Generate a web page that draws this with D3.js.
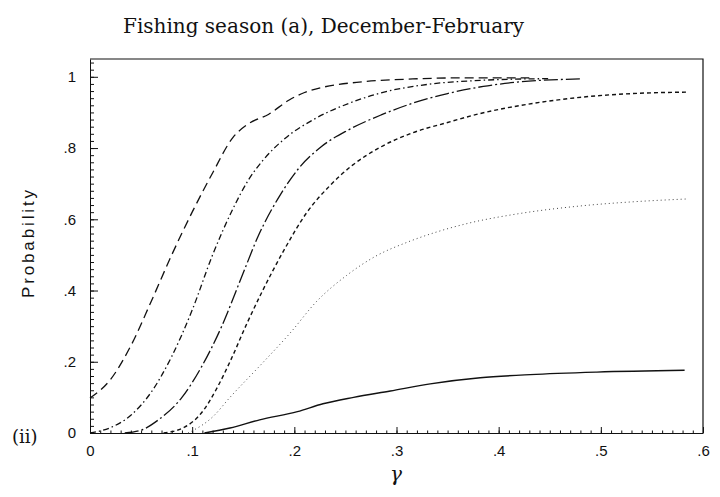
<!DOCTYPE html>
<html>
<head>
<meta charset="utf-8">
<script src="https://cdn.jsdelivr.net/npm/d3@7"></script>
<style>
  body { margin: 0; background: #fff; }
  .axis text { font-family: "Liberation Sans", Arial, sans-serif; font-size: 15px; fill: #111; }
  .axis path, .axis line { stroke: #111; }
  .line { fill: none; stroke: #111; stroke-width: 1.3; }
</style>
</head>
<body>
<div class="chart"></div>
<script>
// tick values
var xTicks = [0, 0.1, 0.2, 0.3, 0.4, 0.5, 0.6];
var yTicks = [0, 0.2, 0.4, 0.6, 0.8, 1];

// series values (gamma, probability)
var longDashX  = [0, 0.02, 0.04, 0.06, 0.08, 0.1, 0.12, 0.14, 0.155, 0.175, 0.195, 0.21, 0.23, 0.267, 0.316, 0.365, 0.43];
var longDashY  = [0.098, 0.15, 0.245, 0.37, 0.5, 0.62, 0.73, 0.83, 0.868, 0.895, 0.935, 0.956, 0.972, 0.986, 0.994, 0.997, 0.997];

var dashDotX   = [0, 0.02, 0.04, 0.06, 0.08, 0.1, 0.12, 0.14, 0.155, 0.17, 0.19, 0.22, 0.253, 0.285, 0.334, 0.382, 0.45];
var dashDotY   = [0, 0.015, 0.05, 0.115, 0.215, 0.345, 0.5, 0.63, 0.71, 0.768, 0.825, 0.882, 0.925, 0.955, 0.98, 0.99, 0.995];

var longDashDotX = [0.034, 0.05, 0.067, 0.09, 0.109, 0.129, 0.148, 0.165, 0.187, 0.204, 0.226, 0.253, 0.285, 0.317, 0.35, 0.385, 0.418, 0.48];
var longDashDotY = [0, 0.008, 0.037, 0.1, 0.185, 0.3, 0.435, 0.555, 0.672, 0.742, 0.803, 0.851, 0.893, 0.927, 0.953, 0.973, 0.985, 0.994];

var shortDashX = [0.072, 0.093, 0.109, 0.125, 0.137, 0.154, 0.169, 0.19, 0.212, 0.235, 0.257, 0.284, 0.316, 0.349, 0.382, 0.433, 0.482, 0.531, 0.585];
var shortDashY = [0, 0.017, 0.056, 0.13, 0.2, 0.31, 0.40, 0.514, 0.618, 0.695, 0.752, 0.802, 0.843, 0.871, 0.897, 0.925, 0.943, 0.953, 0.957];

var dottedX    = [0.096, 0.12, 0.137, 0.169, 0.196, 0.222, 0.251, 0.28, 0.31, 0.34, 0.372, 0.418, 0.482, 0.531, 0.584];
var dottedY    = [0, 0.045, 0.1, 0.197, 0.281, 0.37, 0.442, 0.497, 0.535, 0.565, 0.59, 0.615, 0.638, 0.649, 0.657];

var solidX     = [0.112, 0.137, 0.166, 0.203, 0.228, 0.258, 0.294, 0.333, 0.382, 0.431, 0.496, 0.582];
var solidY     = [0, 0.014, 0.037, 0.06, 0.082, 0.1, 0.118, 0.138, 0.155, 0.164, 0.171, 0.176];

// set the dimensions and margins of the graph
var margin = {top: 59, right: 17, bottom: 64, left: 90},
    width = 720 - margin.left - margin.right,
    height = 497 - margin.top - margin.bottom;

// set the ranges
var x = d3.scaleLinear().domain([0, 0.6]).range([0, width]);
var y = d3.scaleLinear().domain([0, 1.05]).range([height, 0]);

var fmt = function(d) { return d === 0 ? "0" : d === 1 ? "1" : d3.format(".1f")(d).replace(/^0/, ""); };

var svg = d3.select(".chart").append("svg")
    .attr("width", 720)
    .attr("height", 497);

var chart = svg.append("g")
    .attr("transform", "translate(" + margin.left + "," + margin.top + ")");

// minor ticks
chart.append("g")
    .attr("class", "axis")
    .attr("transform", "translate(0," + height + ")")
    .call(d3.axisBottom(x).tickValues(d3.range(0, 0.6001, 0.01)).tickSize(-2.5).tickFormat(""))
    .call(function(g) { g.select(".domain").remove(); });

chart.append("g")
    .attr("class", "axis")
    .call(d3.axisLeft(y).tickValues(d3.range(0, 1.041, 0.02)).tickSize(-4).tickFormat(""))
    .call(function(g) { g.select(".domain").remove(); });

// Add the X Axis
chart.append("g")
    .attr("class", "axis")
    .attr("transform", "translate(0," + height + ")")
    .call(d3.axisBottom(x).tickValues(xTicks).tickSizeInner(-6).tickSizeOuter(0).tickPadding(12).tickFormat(fmt));

// Add the Y Axis
chart.append("g")
    .attr("class", "axis")
    .call(d3.axisLeft(y).tickValues(yTicks).tickSizeInner(-8).tickSizeOuter(0).tickPadding(14).tickFormat(fmt));

// top and right edges of the frame
chart.append("path")
    .attr("d", "M" + x(0) + "," + y(1.05) + "H" + x(0.6) + "V" + y(0))
    .style("fill", "none")
    .style("stroke", "#111")
    .style("stroke-width", 1.2);

// the lines
var series = [
  {xs: longDashX, ys: longDashY, dash: "9,5", w: 1.3, c: "#111"},
  {xs: dashDotX, ys: dashDotY, dash: "6,3,1.5,3", w: 1.3, c: "#111"},
  {xs: longDashDotX, ys: longDashDotY, dash: "14,3,2,3", w: 1.3, c: "#111"},
  {xs: shortDashX, ys: shortDashY, dash: "4,3", w: 1.4, c: "#111"},
  {xs: dottedX, ys: dottedY, dash: "1,3", w: 1, c: "#444"},
  {xs: solidX, ys: solidY, dash: null, w: 1.4, c: "#111"}
];

var valueline = d3.line()
    .x(function(d) { return x(d[0]); })
    .y(function(d) { return y(d[1]); })
    .curve(d3.curveMonotoneX);

series.forEach(function(s) {
  chart.append("path")
      .datum(d3.zip(s.xs, s.ys))
      .attr("class", "line")
      .attr("d", valueline)
      .style("stroke", s.c)
      .style("stroke-width", s.w)
      .style("stroke-dasharray", s.dash);
});

// titles and labels
svg.append("text")
    .attr("x", 123)
    .attr("y", 33)
    .style("font-family", "'DejaVu Serif', serif")
    .style("font-size", "20px")
    .style("fill", "#111")
    .text("Fishing season (a), December-February");

svg.append("text")
    .attr("transform", "translate(34,244) rotate(-90)")
    .attr("text-anchor", "middle")
    .attr("textLength", 108)
    .attr("lengthAdjust", "spacing")
    .style("font-family", "'Liberation Sans', Arial, sans-serif")
    .style("font-size", "17px")
    .style("fill", "#111")
    .text("Probability");

svg.append("text")
    .attr("x", 12)
    .attr("y", 443)
    .style("font-family", "'DejaVu Serif', serif")
    .style("font-size", "18px")
    .style("fill", "#111")
    .text("(ii)");

svg.append("text")
    .attr("x", 396)
    .attr("y", 481)
    .attr("text-anchor", "middle")
    .style("font-family", "'DejaVu Serif', serif")
    .style("font-style", "italic")
    .style("font-size", "20px")
    .style("fill", "#111")
    .text("γ");
</script>
</body>
</html>
